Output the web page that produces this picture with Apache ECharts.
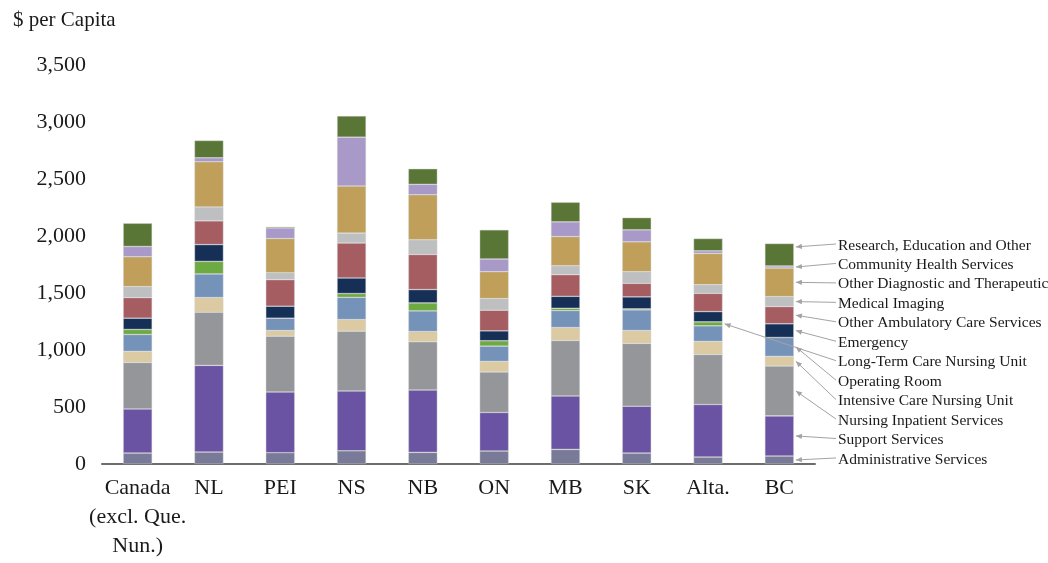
<!DOCTYPE html>
<html>
<head>
<meta charset="utf-8">
<script src="https://cdn.jsdelivr.net/npm/echarts@6/dist/echarts.min.js"></script>
<style>
  html, body { margin: 0; padding: 0; background: #fff; }
  #chart { width: 1048px; height: 563px; }
</style>
</head>
<body>
<div id="chart"></div>
<script>
// Provinces along the x axis
const categories = ['Canada\n(excl. Que.\nNun.)', 'NL', 'PEI', 'NS', 'NB', 'ON', 'MB', 'SK', 'Alta.', 'BC'];

// Per-capita spending by functional centre ($)
const administrative = [96, 105, 99, 116, 102, 114, 128, 96, 61, 70];
const support        = [387, 760, 533, 525, 547, 338, 469, 411, 461, 352];
const nursingInpat   = [408, 466, 489, 524, 423, 355, 487, 551, 439, 437];
const intensiveCare  = [97, 129, 50, 102, 90, 93, 113, 113, 114, 85];
const operatingRoom  = [148, 207, 108, 195, 181, 134, 149, 181, 137, 166];
const longTermCare   = [44, 110, 0, 33, 70, 47, 20, 9, 35, 0];
const emergency      = [99, 148, 105, 137, 117, 87, 105, 105, 90, 120];
const otherAmbul     = [181, 208, 233, 306, 308, 181, 190, 119, 160, 151];
const medicalImaging = [96, 122, 61, 87, 129, 102, 78, 102, 76, 87];
const otherDiag      = [262, 396, 300, 413, 395, 236, 256, 262, 274, 251];
const communityHlth  = [90, 35, 93, 429, 91, 111, 129, 105, 23, 18];
const research       = [204, 152, 10, 186, 137, 256, 172, 107, 108, 197];

// Y axis ticks
const yMin = 0, yMax = 3500, yStep = 500;

// Stack order, bottom to top
const stackSeries = [
  { name: 'Administrative Services', data: administrative, color: '#787a97' },
  { name: 'Support Services', data: support, color: '#6953a2' },
  { name: 'Nursing Inpatient Services', data: nursingInpat, color: '#959699' },
  { name: 'Intensive Care Nursing Unit', data: intensiveCare, color: '#dccaa2' },
  { name: 'Operating Room', data: operatingRoom, color: '#7592b9' },
  { name: 'Long-Term Care Nursing Unit', data: longTermCare, color: '#6eaa42' },
  { name: 'Emergency', data: emergency, color: '#162f56' },
  { name: 'Other Ambulatory Care Services', data: otherAmbul, color: '#a55d62' },
  { name: 'Medical Imaging', data: medicalImaging, color: '#bebfc1' },
  { name: 'Other Diagnostic and Therapeutic', data: otherDiag, color: '#bf9f5a' },
  { name: 'Community Health Services', data: communityHlth, color: '#a899c9' },
  { name: 'Research, Education and Other', data: research, color: '#5a7637' }
];

// Which bar each callout points at (default: last bar), and where along the segment
const calloutTarget = { 'Long-Term Care Nursing Unit': 8 };
const calloutFrac = { 'Research, Education and Other': 0.85 };

const FONT = '"Liberation Serif", "DejaVu Serif", serif';

const chart = echarts.init(document.getElementById('chart'), null, { renderer: 'canvas' });

const option = {
  animation: false,
  backgroundColor: '#ffffff',
  title: {
    text: '$ per Capita',
    left: 8,
    top: 5,
    textStyle: { fontFamily: FONT, fontSize: 21, fontWeight: 'normal', color: '#1a1a1a' }
  },
  grid: { left: 102, right: 233, top: 65, bottom: 99 },
  xAxis: {
    type: 'category',
    data: categories,
    axisLine: { show: true, lineStyle: { color: '#6d6d6d', width: 2 } },
    axisTick: { show: false },
    axisLabel: {
      interval: 0,
      margin: 10,
      fontFamily: FONT,
      fontSize: 22,
      lineHeight: 29,
      color: '#1a1a1a'
    }
  },
  yAxis: {
    type: 'value',
    min: yMin,
    max: yMax,
    interval: yStep,
    splitLine: { show: false },
    axisLine: { show: false },
    axisTick: { show: false },
    axisLabel: {
      margin: 16,
      fontFamily: FONT,
      fontSize: 22,
      color: '#1a1a1a',
      formatter: v => v.toLocaleString('en-US')
    }
  },
  series: stackSeries.map(s => ({
    name: s.name,
    type: 'bar',
    stack: 'total',
    barWidth: 29,
    data: s.data,
    itemStyle: { color: s.color, borderColor: 'rgba(210,210,210,0.7)', borderWidth: 0.6 }
  }))
};

chart.setOption(option);

// Callout labels on the right with arrows pointing to the segments
function buildCallouts() {
  const elements = [];
  const textX = 838;
  const firstY = 244;
  const stepY = 19.45;
  const n = stackSeries.length;
  for (let k = 0; k < n; k++) {
    const idx = n - 1 - k; // top of list = top of stack
    const s = stackSeries[idx];
    const ty = firstY + k * stepY;
    const cat = calloutTarget[s.name] !== undefined ? calloutTarget[s.name] : categories.length - 1;
    const frac = calloutFrac[s.name] !== undefined ? calloutFrac[s.name] : 0.5;
    let base = 0;
    for (let j = 0; j < idx; j++) base += stackSeries[j].data[cat];
    const at = base + s.data[cat] * frac;
    const p = chart.convertToPixel({ xAxisIndex: 0, yAxisIndex: 0 }, [cat, at]);
    const ex = p[0] + 14.5 + 2;
    const ey = p[1];
    const sx = textX - 2;
    const sy = ty;
    elements.push({
      type: 'text',
      left: textX,
      top: ty - 6.5,
      z: 10,
      style: { text: s.name, font: '15.5px ' + FONT, fill: '#1a1a1a' }
    });
    elements.push({
      type: 'line',
      z: 9,
      shape: { x1: sx, y1: sy, x2: ex, y2: ey },
      style: { stroke: '#a3a3a3', lineWidth: 1 }
    });
    const ang = Math.atan2(ey - sy, ex - sx);
    const L = 6, W = 2.6;
    const bx = ex - L * Math.cos(ang), by = ey - L * Math.sin(ang);
    const nx = -Math.sin(ang), ny = Math.cos(ang);
    elements.push({
      type: 'polygon',
      z: 9,
      shape: { points: [[ex, ey], [bx + nx * W, by + ny * W], [bx - nx * W, by - ny * W]] },
      style: { fill: '#a3a3a3' }
    });
  }
  chart.setOption({ graphic: elements });
}
buildCallouts();
</script>
</body>
</html>
